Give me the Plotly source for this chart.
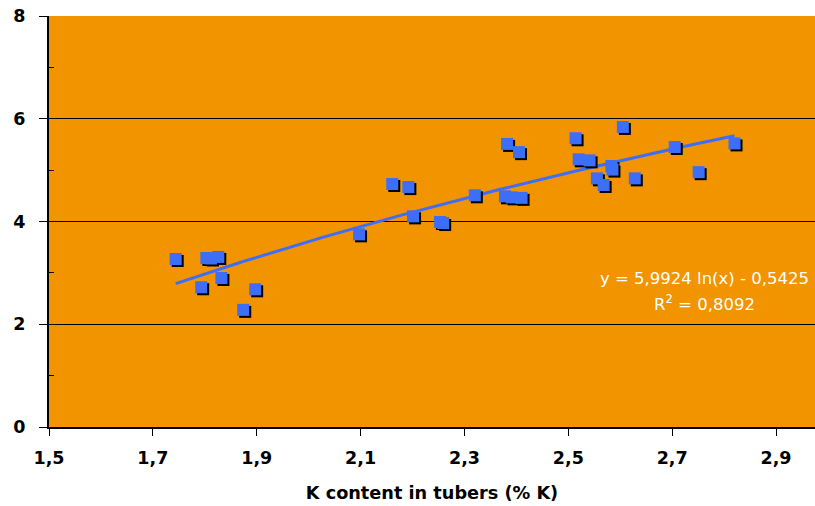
import numpy as np
import plotly.graph_objects as go

# Data
k_content = [1.744, 1.793, 1.803, 1.812, 1.826, 1.832, 1.874, 1.897,
             2.097, 2.161, 2.192, 2.201, 2.253, 2.259, 2.320, 2.378,
             2.382, 2.391, 2.405, 2.410, 2.514, 2.520, 2.541, 2.555,
             2.568, 2.583, 2.585, 2.605, 2.628, 2.705, 2.751, 2.820]
yield_vals = [3.27, 2.72, 3.29, 3.28, 3.31, 2.90, 2.28, 2.68,
              3.75, 4.73, 4.67, 4.10, 3.99, 3.97, 4.51, 4.49,
              5.51, 4.47, 5.35, 4.46, 5.62, 5.21, 5.19, 4.84,
              4.71, 5.08, 5.01, 5.84, 4.84, 5.45, 4.96, 5.52]

# Logarithmic trendline coefficients shown on the chart
coef_a = 5.9924
coef_b = -0.5425
r_squared = 0.8092

x_ticks = [1.5, 1.7, 1.9, 2.1, 2.3, 2.5, 2.7, 2.9]
y_ticks = [0, 2, 4, 6, 8]

ORANGE = "#F29400"
BLUE = "#3D6EF7"
FONT = "DejaVu Sans"

x_range = [1.5, 2.975]
y_range = [0, 8]
# pixel scale of the plot area (for the marker drop shadow)
px_x = (x_range[1] - x_range[0]) / 766.0
px_y = (y_range[1] - y_range[0]) / 411.0

trend_x = np.linspace(min(k_content), max(k_content), 100)
trend_y = coef_a * np.log(trend_x) + coef_b

fig = go.Figure()
fig.add_trace(go.Scatter(x=trend_x, y=trend_y, mode="lines",
                         line=dict(color=BLUE, width=3), hoverinfo="skip",
                         showlegend=False))
fig.add_trace(go.Scatter(x=[v + 2 * px_x for v in k_content],
                         y=[v - 2 * px_y for v in yield_vals], mode="markers",
                         marker=dict(symbol="square", size=12, color="black",
                                     line=dict(width=0)),
                         hoverinfo="skip", showlegend=False))
fig.add_trace(go.Scatter(x=k_content, y=yield_vals, mode="markers",
                         marker=dict(symbol="square", size=12, color=BLUE,
                                     line=dict(width=0)),
                         showlegend=False))

eq_text = "y = {} ln(x) - {}".format(f"{coef_a:.4f}".replace(".", ","),
                                      f"{-coef_b:.4f}".replace(".", ","))
r2_text = "R<sup>2</sup> = {}".format(f"{r_squared:.4f}".replace(".", ","))

fig.add_annotation(x=2.7616, y=2.90, xref="x", yref="y",
                   text=eq_text, showarrow=False,
                   font=dict(family=FONT, size=16.5, color="white"),
                   xanchor="center", yanchor="middle")
fig.add_annotation(x=2.7616, y=2.41, xref="x", yref="y",
                   text=r2_text, showarrow=False,
                   font=dict(family=FONT, size=16.5, color="white"),
                   xanchor="center", yanchor="middle")

fig.update_layout(
    width=815, height=506,
    margin=dict(l=49, r=0, t=16, b=79, autoexpand=False),
    paper_bgcolor="white", plot_bgcolor=ORANGE,
    separators=",.",
    font=dict(family=FONT, color="black"),
    xaxis=dict(range=x_range, tickvals=x_ticks, tickformat=".1f",
               ticks="outside", ticklen=7, tickcolor="black", tickwidth=1,
               showline=True, linecolor="black", linewidth=2,
               showgrid=False, zeroline=False,
               tickfont=dict(family=FONT, size=17.5, color="black", weight="bold"),
               ticklabelstandoff=7,
               title=dict(text="K content in tubers (% K)", standoff=20,
                          font=dict(family=FONT, size=17.7, color="black",
                                    weight="bold"))),
    yaxis=dict(range=y_range, tickvals=y_ticks, ticks="outside", ticklen=8,
               tickcolor="black", tickwidth=1,
               showline=True, linecolor="black", linewidth=2,
               showgrid=True, gridcolor="black", gridwidth=1,
               zeroline=False,
               minor=dict(tickvals=[1, 3, 5, 7], ticks="inside", ticklen=5,
                          tickcolor="black", showgrid=False),
               tickfont=dict(family=FONT, size=17.5, color="black", weight="bold"),
               ticklabelstandoff=10),
)

fig.write_html("out.html", config={"displayModeBar": False},
               post_script="document.body.style.margin='0px';"
                           "document.body.style.overflow='hidden';")
